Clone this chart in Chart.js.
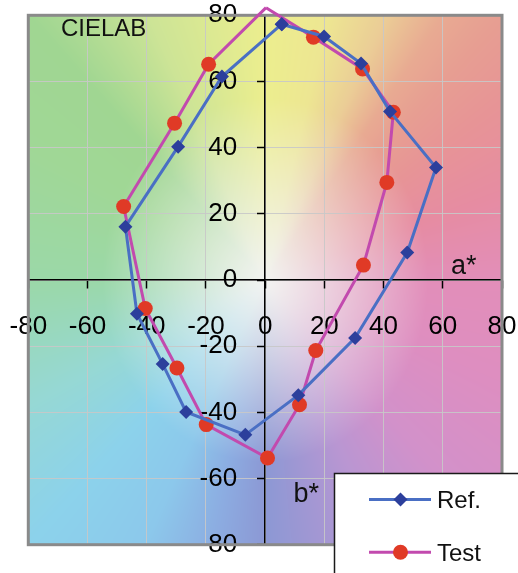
<!DOCTYPE html>
<html>
<head>
<meta charset="utf-8">
<script src="https://cdn.jsdelivr.net/npm/chart.js@4/dist/chart.umd.min.js"></script>
<style>
html,body{margin:0;padding:0;background:#fff;overflow:hidden;}
#wrap{position:relative;width:518px;height:573px;}
canvas{display:block;}
</style>
</head>
<body>
<div id="wrap"><canvas id="c" width="518" height="573"></canvas></div>
<script>
// ---- data (a*, b*) ----
const refA  = [5.6, 19.9, 32.4, 42.2, 57.7, 48.0, 30.4, 11.2, -6.7, -26.7, -34.6, -43.3, -47.2, -29.4, -14.6, 5.6];
const refB  = [77.3, 73.6, 65.4, 50.9, 34.0, 8.3, -17.5, -34.8, -46.8, -39.9, -25.4, -10.2, 16.1, 40.3, 61.5, 77.3];
const testA = [0.3, 16.3, 32.9, 43.3, 41.1, 33.2, 17.1, 11.6, 0.8, -19.9, -29.8, -40.5, -47.8, -30.6, -19.1, 0.3];
const testB = [82.3, 73.4, 63.8, 50.7, 29.5, 4.5, -21.3, -37.7, -53.8, -43.7, -26.6, -8.6, 22.2, 47.4, 65.2, 82.3];
const seriesNames = ['Ref.', 'Test'];
const axisMin = -80, axisMax = 80, axisStep = 20;
const titleText = 'CIELAB';
const xAxisName = 'a*';
const yAxisName = 'b*';

const FONT = '"Liberation Sans", Arial, sans-serif';
const BLUE_LINE = '#4a6fc4';
const BLUE_MARK = '#2c3f9c';
const MAG_LINE = '#c24aae';
const RED_MARK = '#e03a26';

const hueAnchors = [
  [0,[226,142,185]],[18,[230,140,162]],[34,[231,148,150]],[45,[231,158,146]],
  [53,[232,170,146]],[63,[235,205,150]],[75,[237,230,146]],[90,[236,238,142]],
  [116,[205,228,150]],[135,[160,214,146]],[153,[160,215,150]],[180,[155,216,168]],
  [205,[150,216,212]],[225,[140,210,235]],[243,[140,200,235]],[258,[140,172,225]],
  [270,[140,152,212]],[296,[185,150,210]],[315,[210,145,202]],[340,[222,142,192]],
  [360,[226,142,185]]
];
function hueColor(t){
  for(let i=0;i<hueAnchors.length-1;i++){
    const [t0,c0]=hueAnchors[i],[t1,c1]=hueAnchors[i+1];
    if(t>=t0&&t<=t1){const f=(t-t0)/(t1-t0);return [c0[0]+(c1[0]-c0[0])*f,c0[1]+(c1[1]-c0[1])*f,c0[2]+(c1[2]-c0[2])*f];}
  }
  return hueAnchors[0][1];
}
let bgCache=null;
const bgPlugin={
  id:'labbg',
  afterLayout(chart){
    const s=chart.scales.y;
    s._labelItems=null;
    const items=s.getLabelItems();
    items.forEach(it=>{it.options.translation[0]-=28;});
  },
  beforeDraw(chart){
    const {ctx,chartArea:ca,scales:{x,y}}=chart;
    const L=Math.floor(ca.left),T=Math.floor(ca.top),W=Math.ceil(ca.right)-L,H=Math.ceil(ca.bottom)-T;
    if(!bgCache){
      const off=document.createElement('canvas');off.width=W;off.height=H;
      const octx=off.getContext('2d');const img=octx.createImageData(W,H);
      const white=[242,243,240];
      for(let j=0;j<H;j++){
        const b=y.getValueForPixel(T+j+0.5);
        for(let i=0;i<W;i++){
          const a=x.getValueForPixel(L+i+0.5);
          let t=Math.atan2(b,a)*180/Math.PI; if(t<0)t+=360;
          const r=Math.sqrt(a*a+b*b);
          const s=Math.pow(Math.min(1,r/55),1.1);
          const c=hueColor(t);
          const k=(j*W+i)*4;
          img.data[k]=white[0]+(c[0]-white[0])*s;
          img.data[k+1]=white[1]+(c[1]-white[1])*s;
          img.data[k+2]=white[2]+(c[2]-white[2])*s;
          img.data[k+3]=255;
        }
      }
      octx.putImageData(img,0,0);bgCache=off;
    }
    ctx.drawImage(bgCache,L,T);
  },
  beforeDatasetsDraw(chart){
    const {ctx,chartArea:ca}=chart;
    ctx.save();ctx.strokeStyle='#8a8a8a';ctx.lineWidth=3;
    ctx.strokeRect(ca.left,ca.top,ca.right-ca.left,ca.bottom-ca.top);
    ctx.restore();
  },
  afterDraw(chart){
    const {ctx}=chart;
    ctx.save();
    ctx.fillStyle='#111';ctx.textBaseline='alphabetic';ctx.textAlign='left';
    ctx.font='24px '+FONT;ctx.fillText(titleText,61,36);
    ctx.font='27px '+FONT;ctx.fillText(xAxisName,451,274);
    ctx.fillText(yAxisName,293.5,501.5);
    ctx.fillStyle='#fff';ctx.fillRect(334.5,473.5,200,120);
    ctx.strokeStyle='#1a1a1a';ctx.lineWidth=1.5;ctx.strokeRect(334.5,473.5,200,120);
    const ds=chart.data.datasets;
    const rows=[499.5,552.3];
    ds.forEach((d,i)=>{
      const yy=rows[i];
      ctx.strokeStyle=d.borderColor;ctx.lineWidth=3;
      ctx.beginPath();ctx.moveTo(369,yy);ctx.lineTo(431,yy);ctx.stroke();
      ctx.fillStyle=d.pointBackgroundColor;
      ctx.beginPath();
      if(d.pointStyle==='rectRot'){ctx.moveTo(400.5,yy-7);ctx.lineTo(407.5,yy);ctx.lineTo(400.5,yy+7);ctx.lineTo(393.5,yy);ctx.closePath();}
      else{ctx.arc(400.5,yy,7.5,0,Math.PI*2);}
      ctx.fill();
      ctx.fillStyle='#111';ctx.font='24px '+FONT;
      ctx.fillText(d.label,437,yy+8.8);
    });
    ctx.restore();
  }
};

const toPts=(A,B)=>A.map((a,i)=>({x:a,y:B[i]}));
const noPad=(s)=>{s.paddingLeft=0;s.paddingRight=0;s.paddingTop=0;s.paddingBottom=0;};
const axisCommon=(isX)=>({
  type:'linear',min:axisMin,max:axisMax,
  position:isX?{y:0}:{x:0},
  afterFit:noPad,
  ticks:{stepSize:axisStep,color:'#000',font:{size:26,family:FONT},padding:isX?23:21,maxRotation:0,autoSkip:false},
  grid:{color:'rgba(200,200,200,0.9)',lineWidth:1,tickLength:isX?8:7,tickColor:'#000',tickWidth:1.5},
  border:{color:'#000',width:1.5}
});

new Chart(document.getElementById('c'),{
  type:'scatter',
  data:{datasets:[
    {label:seriesNames[0],data:toPts(refA,refB),showLine:true,borderColor:BLUE_LINE,borderWidth:3,
     pointStyle:'rectRot',pointRadius:7,pointBackgroundColor:BLUE_MARK,pointBorderColor:BLUE_MARK,pointBorderWidth:0,tension:0},
    {label:seriesNames[1],data:toPts(testA,testB),showLine:true,borderColor:MAG_LINE,borderWidth:3,clip:false,
     pointStyle:'circle',pointRadius:(c)=>(c.raw&&c.raw.y>axisMax)?0:7.5,pointBackgroundColor:RED_MARK,pointBorderColor:RED_MARK,pointBorderWidth:0,tension:0}
  ]},
  options:{
    responsive:false,devicePixelRatio:1,animation:false,
    layout:{padding:{left:28.3,top:15.3,right:16,bottom:28.3}},
    plugins:{legend:{display:false},tooltip:{enabled:false}},
    scales:{x:axisCommon(true),y:axisCommon(false)}
  },
  plugins:[bgPlugin]
});
</script>
</body>
</html>
